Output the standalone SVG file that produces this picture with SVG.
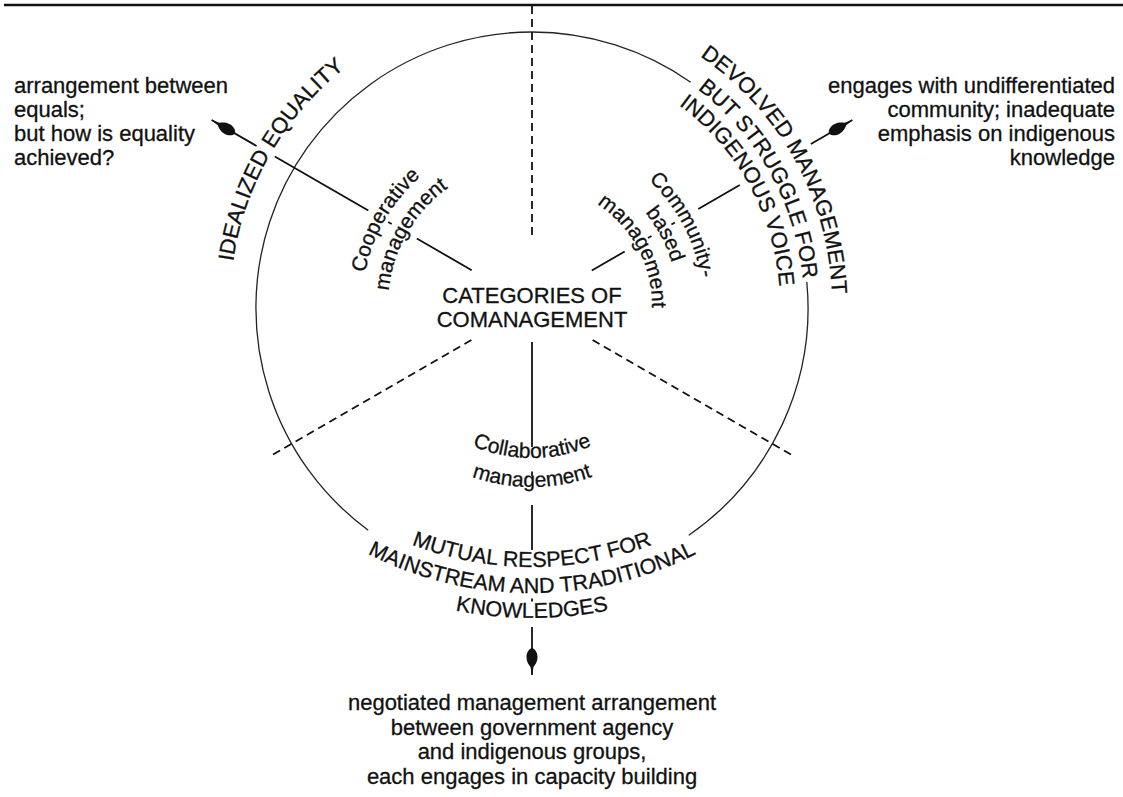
<svg xmlns="http://www.w3.org/2000/svg" width="1123" height="797" viewBox="0 0 1123 797">
  <style>
    .t { font-family: "Liberation Sans", Arial, Helvetica, sans-serif; fill: #111; stroke: #111; stroke-width: 0.3; }
    .f22 { font-size: 22px; }
    .f21 { font-size: 21px; }
    .f215 { font-size: 21.5px; }
    .ring { fill: none; stroke: #222; stroke-width: 1.3; }
    .spoke { fill: none; stroke: #111; stroke-width: 1.8; }
    .dash { fill: none; stroke: #111; stroke-width: 1.8; stroke-dasharray: 8 5; }
    .rule { stroke: #111; stroke-width: 2.6; }
  </style>
  <defs>
    <!-- drop-shaped end marker, tip at the line end -->
    <marker id="drop" viewBox="-30 -8 32 16" refX="0" refY="0" markerWidth="32" markerHeight="16" markerUnits="userSpaceOnUse" orient="auto">
      <path d="M -27,0 C -26,-3.5 -22,-5.5 -18,-5.5 C -13,-5.5 -10,-3 -8,-1.5 L 0,0 L -8,1.5 C -10,3 -13,5.5 -18,5.5 C -22,5.5 -26,3.5 -27,0 Z" fill="#111"/>
    </marker>
    <!-- text baselines, all arcs around the hub at (532,305) unless noted -->
    <path id="pIdeal" d="M270.5,456 A302,302 0 0 1 532,3"/>
    <path id="pCoop1" d="M384.8,390 A170,170 0 0 1 532,135"/>
    <path id="pCoop2" d="M407.3,377 A144,144 0 0 1 532,161"/>
    <path id="pComm1" d="M538.0,134.1 A171,171 0 0 1 677.0,395.6"/>
    <path id="pComm2" d="M537.1,159.1 A146,146 0 0 1 655.8,382.4"/>
    <path id="pComm3" d="M536.2,185.1 A120,120 0 0 1 633.8,368.6"/>
    <path id="pDev1" d="M537.2,5.0 A300,300 0 0 1 789.2,459.5"/>
    <path id="pDev2" d="M536.7,33.0 A272,272 0 0 1 765.2,445.1"/>
    <path id="pDev3" d="M536.3,57.0 A248,248 0 0 1 744.6,432.7"/>
    <path id="pColl1" d="M399.5,381.5 A153,153 0 0 0 664.5,381.5"/>
    <path id="pColl2" d="M374.4,396 A182,182 0 0 0 689.6,396"/>
    <!-- flatter arcs for the lower heading, centred at (532,230) -->
    <path id="pMut1" d="M240.2,398.5 A337,337 0 0 0 823.8,398.5"/>
    <path id="pMut2" d="M217.6,411.5 A363,363 0 0 0 846.4,411.5"/>
    <path id="pMut3" d="M196,424 A388,388 0 0 0 868,424"/>
  </defs>

  <rect width="1123" height="797" fill="#fff"/>

  <!-- page rule -->
  <line class="rule" x1="4" y1="5" x2="1123" y2="5"/>

  <!-- outer ring, broken where the headings sit -->
  <g id="ring">
    <path class="ring" d="M368.2,530.2 A276,276 0 0 1 532,32 A276,276 0 0 1 690.7,82.2"/>
    <path class="ring" d="M806.8,282 A276,276 0 0 1 688.8,535.2"/>
  </g>

  <g id="connectors">
    <!-- sector boundaries -->
    <line class="dash" x1="532" y1="235" x2="532" y2="5"/>
    <line class="dash" x1="471.4" y1="340" x2="270.5" y2="456"/>
    <line class="dash" x1="592.6" y1="340" x2="793.5" y2="456"/>
    <!-- upper-left spoke -->
    <line class="spoke" x1="471.7" y1="270.2" x2="416.8" y2="238.5"/>
    <line class="spoke" x1="391.7" y1="224" x2="388.2" y2="222"/>
    <line class="spoke" x1="368.3" y1="210.5" x2="274.8" y2="156.5"/>
    <line class="spoke" x1="256.6" y1="146" x2="211.6" y2="120" marker-end="url(#drop)"/>
    <!-- upper-right spoke -->
    <line class="spoke" x1="591.8" y1="270.5" x2="624.7" y2="251.5"/>
    <line class="spoke" x1="648" y1="238" x2="651.5" y2="236"/>
    <line class="spoke" x1="671.4" y1="224.5" x2="674.9" y2="222.5"/>
    <line class="spoke" x1="698.3" y1="209" x2="739.8" y2="185"/>
    <line class="spoke" x1="810.9" y1="144" x2="852.4" y2="120" marker-end="url(#drop)"/>
    <!-- downward spoke -->
    <line class="spoke" x1="532" y1="342" x2="532" y2="447"/>
    <line class="spoke" x1="532" y1="471.5" x2="532" y2="476"/>
    <line class="spoke" x1="532" y1="505" x2="532" y2="550"/>
    <line class="spoke" x1="532" y1="598.5" x2="532" y2="601.5"/>
    <line class="spoke" x1="532" y1="627" x2="532" y2="675" marker-end="url(#drop)"/>
  </g>

  <g id="hub" class="t f22" text-anchor="middle">
    <text x="532" y="303">CATEGORIES OF</text>
    <text x="532" y="327">COMANAGEMENT</text>
  </g>

  <g id="cooperative" class="t f21">
    <text><textPath href="#pCoop1" startOffset="50%" text-anchor="middle">Cooperative</textPath></text>
    <text><textPath href="#pCoop2" startOffset="50%" text-anchor="middle">management</textPath></text>
  </g>

  <g id="community-based" class="t f21">
    <text><textPath href="#pComm1" startOffset="50%" text-anchor="middle">Community-</textPath></text>
    <text><textPath href="#pComm2" startOffset="50%" text-anchor="middle">based</textPath></text>
    <text><textPath href="#pComm3" startOffset="50%" text-anchor="middle">management</textPath></text>
  </g>

  <g id="collaborative" class="t f21">
    <text><textPath href="#pColl1" startOffset="50%" text-anchor="middle">Collaborative</textPath></text>
    <text><textPath href="#pColl2" startOffset="50%" text-anchor="middle">management</textPath></text>
  </g>

  <g id="idealized" class="t f22">
    <text><textPath href="#pIdeal" startOffset="50%" text-anchor="middle">IDEALIZED EQUALITY</textPath></text>
  </g>

  <g id="devolved" class="t f22">
    <text><textPath href="#pDev1" startOffset="50%" text-anchor="middle">DEVOLVED MANAGEMENT</textPath></text>
    <text><textPath href="#pDev2" startOffset="50%" text-anchor="middle">BUT STRUGGLE FOR</textPath></text>
    <text><textPath href="#pDev3" startOffset="50%" text-anchor="middle">INDIGENOUS VOICE</textPath></text>
  </g>

  <g id="mutual" class="t f215">
    <text><textPath href="#pMut1" startOffset="50%" text-anchor="middle">MUTUAL RESPECT FOR</textPath></text>
    <text><textPath href="#pMut2" startOffset="50%" text-anchor="middle">MAINSTREAM AND TRADITIONAL</textPath></text>
    <text><textPath href="#pMut3" startOffset="50%" text-anchor="middle">KNOWLEDGES</textPath></text>
  </g>

  <g id="note-left" class="t f22">
    <text x="14" y="92.5">arrangement between</text>
    <text x="14" y="116.8">equals;</text>
    <text x="14" y="141.1">but how is equality</text>
    <text x="14" y="165.4">achieved?</text>
  </g>

  <g id="note-right" class="t f22" text-anchor="end">
    <text x="1115" y="93">engages with undifferentiated</text>
    <text x="1115" y="117">community; inadequate</text>
    <text x="1115" y="141">emphasis on indigenous</text>
    <text x="1115" y="165">knowledge</text>
  </g>

  <g id="note-bottom" class="t f22" text-anchor="middle">
    <text x="532" y="710">negotiated management arrangement</text>
    <text x="532" y="734.5">between government agency</text>
    <text x="532" y="759">and indigenous groups,</text>
    <text x="532" y="783.5">each engages in capacity building</text>
  </g>
</svg>
